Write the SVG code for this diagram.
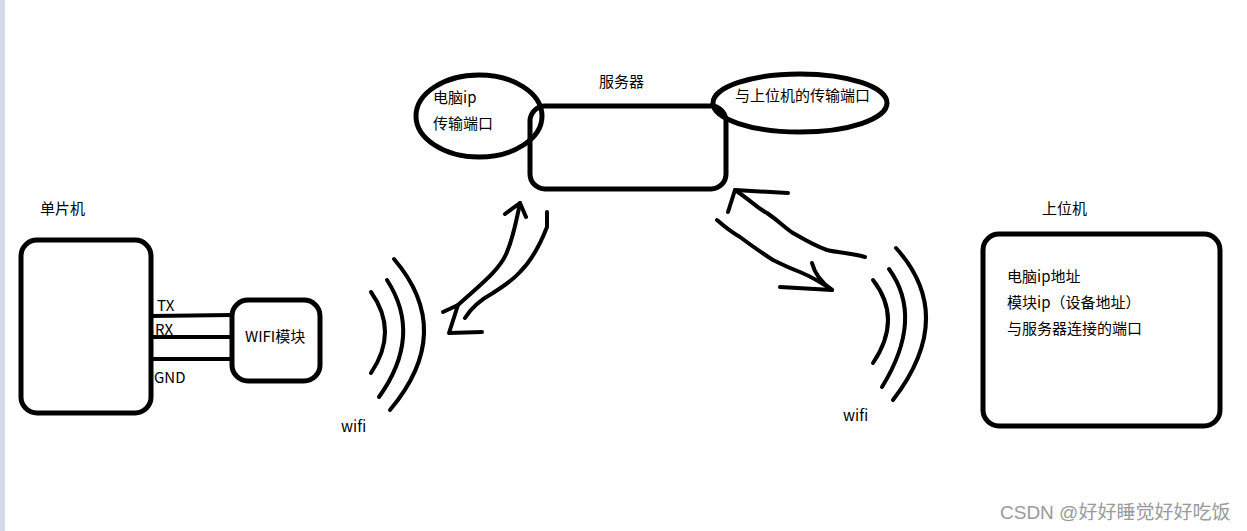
<svg xmlns="http://www.w3.org/2000/svg" width="1247" height="531" viewBox="0 0 1247 531">
<style>
.box{fill:none;stroke:#000;stroke-width:5}
.ln{fill:none;stroke:#000;stroke-width:4;stroke-linecap:round;stroke-linejoin:round}
.t{font-family:"Microsoft YaHei","Noto Sans CJK SC",sans-serif;font-size:15px;fill:#000}
.wm{font-family:"Liberation Sans","Noto Sans CJK SC",sans-serif;font-size:19px;fill:#9a9a9a}
</style>
<rect x="0" y="0" width="1247" height="531" fill="#fff"/>
<rect x="0" y="0" width="5" height="531" fill="#d3dbe8"/>

<g id="mcu">
<rect class="box" x="21" y="240" width="130" height="173" rx="16"/>
<text class="t" x="40" y="214">单片机</text>
</g>
<g id="wifi-module">
<rect class="box" x="232" y="300" width="88" height="81" rx="16"/>
<text class="t" x="245" y="342">WIFI模块</text>
</g>
<g id="server">
<rect class="box" x="530" y="106" width="196" height="83" rx="15"/>
<text class="t" x="599" y="87">服务器</text>
</g>
<g id="server-ip">
<ellipse class="box" cx="479" cy="116" rx="63" ry="41"/>
<text class="t" x="433" y="103">电脑ip</text>
<text class="t" x="433" y="129">传输端口</text>
</g>
<g id="server-port">
<ellipse class="box" cx="800" cy="103" rx="87" ry="29"/>
<text class="t" x="735" y="101">与上位机的传输端口</text>
</g>
<g id="host">
<rect class="box" x="983" y="234" width="237" height="192" rx="16"/>
<text class="t" x="1042" y="214">上位机</text>
<text class="t" x="1007" y="282">电脑ip地址</text>
<text class="t" x="1007" y="308">模块ip（设备地址）</text>
<text class="t" x="1007" y="334">与服务器连接的端口</text>
</g>
<g id="wifi-left">
<path class="ln" d="M371 292 Q399 331.5 371 373"/>
<path class="ln" d="M387 280 Q423 335.5 379 397"/>
<path class="ln" d="M394 259 Q456 331.5 390 410"/>
<text class="t" x="341" y="432">wifi</text>
</g>
<g id="wifi-right">
<path class="ln" d="M873 280 Q903 318.5 873 363"/>
<path class="ln" d="M889 269 Q924.5 318 882 387"/>
<path class="ln" d="M896 248 Q957.5 316 893 400"/>
<text class="t" x="843" y="421">wifi</text>
</g>
<g id="connectors">
<line class="ln" x1="151" y1="316" x2="232" y2="315"/>
<line class="ln" x1="151" y1="337" x2="232" y2="337"/>
<line class="ln" x1="151" y1="359" x2="232" y2="359"/>
<text class="t" x="157" y="311">TX</text>
<text class="t" x="155" y="335">RX</text>
<text class="t" x="154" y="383">GND</text>
<path class="ln" d="M443 312 L458 305 L449 333 L482 332"/>
<path class="ln" d="M458 305 C480 285 500 270 507 252 C514 235 516 222 520 203"/>
<path class="ln" d="M505 214 L520 203 L526 217"/>
<path class="ln" d="M547 212 L547 227 C540 245 530 262 520 272 C510 283 500 288 493 293 C480 300 470 310 465 318"/>
<path class="ln" d="M728 212 L735 190 L788 193"/>
<path class="ln" d="M735 190 C750 200 760 210 767 213 C780 222 785 228 793 233 C805 240 815 246 827 250 C840 253 850 253 865 257"/>
<path class="ln" d="M717 220 C725 227 733 233 740 237 C752 246 762 253 773 260 C785 266 792 269 800 272 C812 277 822 283 832 290"/>
<path class="ln" d="M812 263 C815 275 822 283 832 290 L780 287"/>
</g>
<text class="wm" x="1000" y="519">CSDN @好好睡觉好好吃饭</text>
</svg>
